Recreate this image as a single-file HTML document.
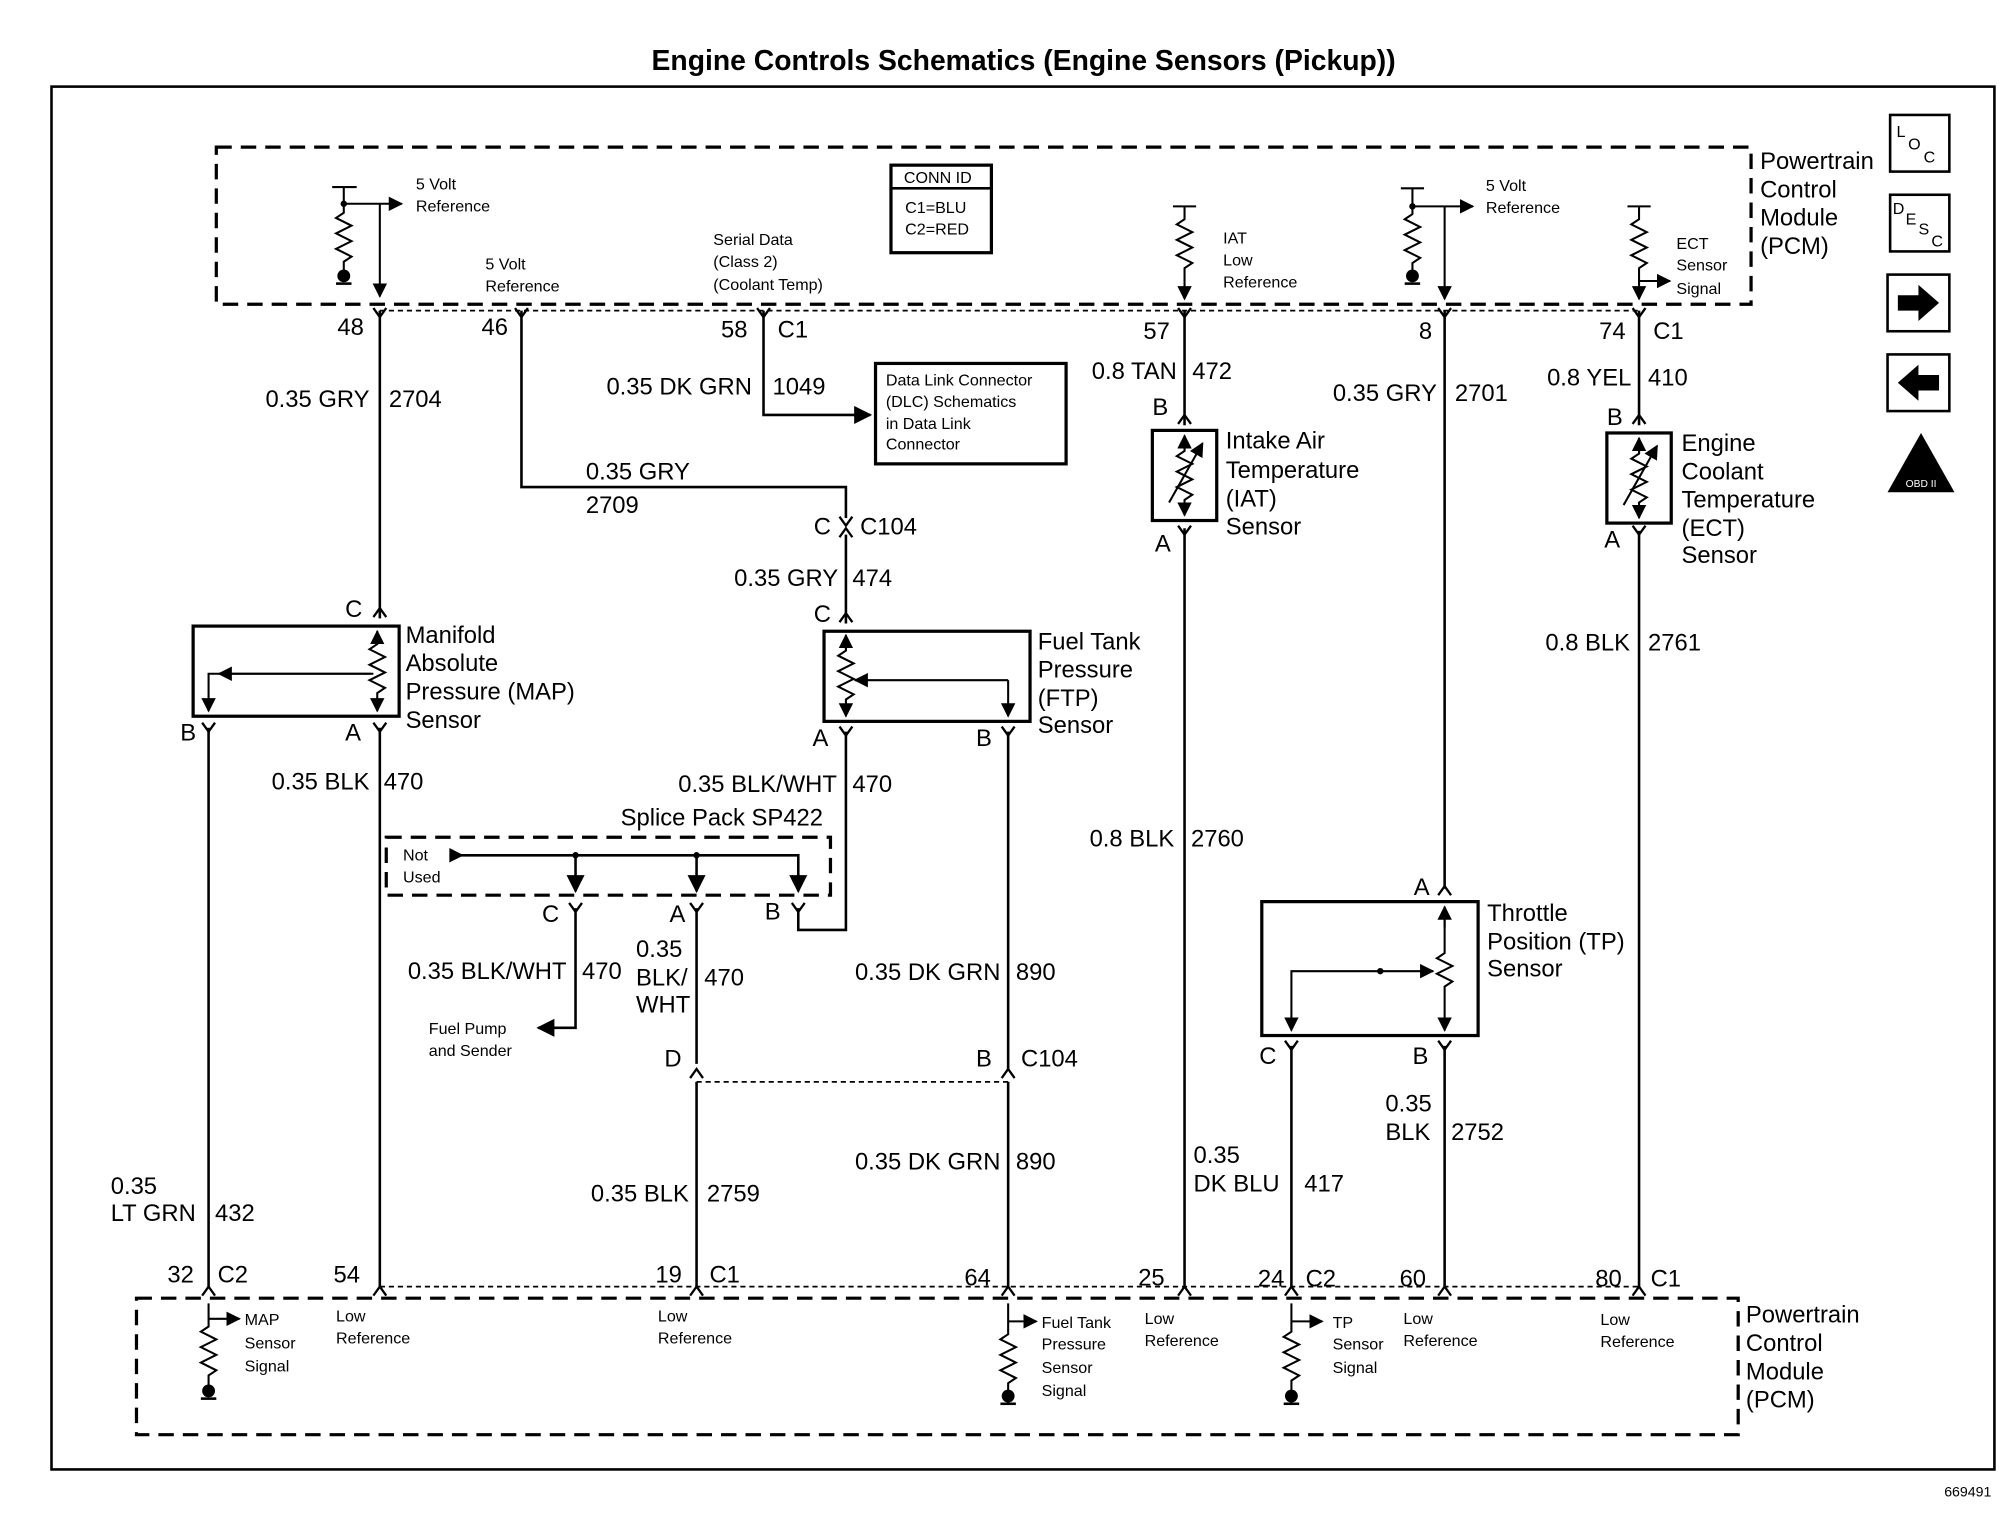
<!DOCTYPE html>
<html><head><meta charset="utf-8"><style>
html,body{margin:0;padding:0;background:#fff}
svg{display:block}
text{font-family:"Liberation Sans",sans-serif;fill:#000}
.t{font-size:18.5px}
.s{font-size:12.5px}
.e{text-anchor:end}
</style></head><body>
<svg width="2006" height="1520" viewBox="0 0 1558 1180" xmlns="http://www.w3.org/2000/svg">
<defs>
<marker id="ar" viewBox="0 0 10 10" refX="9" refY="5" markerWidth="7" markerHeight="7" orient="auto"><path d="M0,0 L10,5 L0,10 z" fill="#000"/></marker>
<symbol id="fk" overflow="visible"><path d="M-5,-7 L0,0 L5,-7" fill="none" stroke="#000" stroke-width="1.8"/></symbol>
<symbol id="fu" overflow="visible"><path d="M-5,7 L0,0 L5,7" fill="none" stroke="#000" stroke-width="1.8"/></symbol>
<symbol id="gnd" overflow="visible"><circle cx="0" cy="0" r="5" fill="#000"/><path d="M-6,6 H6" stroke="#000" stroke-width="2"/></symbol>
</defs>
<rect width="1558" height="1180" fill="#fff"/>
<text x="795" y="54" text-anchor="middle" style="font-size:22px;font-weight:bold">Engine Controls Schematics (Engine Sensors (Pickup))</text>
<rect x="40" y="67" width="1509" height="1074" fill="none" stroke="#000" stroke-width="2"/>
<text x="1510" y="1162" style="font-size:11px">669491</text>

<g fill="none" stroke="#000" stroke-width="2.5" stroke-dasharray="12,7">
<rect x="168" y="114" width="1192" height="122"/>
<rect x="106" y="1008" width="1244" height="106"/>
<rect x="300" y="650" width="345" height="45"/>
</g>
<g stroke="#000" stroke-width="1.3" stroke-dasharray="4,3" fill="none">
<path d="M295,241 H1273"/><path d="M295,999 H1273"/><path d="M541,840 H783"/>
</g>

<!-- wires -->
<g stroke="#000" stroke-width="2" fill="none">
<path d="M295,241 V480"/>
<path d="M405,241 V378 H657 V402"/><path d="M657,415 V484"/>
<path d="M593,241 V322 H676" marker-end="url(#ar)"/>
<path d="M920,241 V330"/><path d="M920,410 V999"/>
<path d="M1122,241 V690"/>
<path d="M1273,241 V330"/><path d="M1273,412 V999"/>
<path d="M162,565 V999"/><path d="M295,565 V999"/>
<path d="M783,568 V830"/><path d="M783,840 V999"/>
<path d="M657,568 V722 H620 V705"/>
<path d="M447,705 V798 H418" marker-end="url(#ar)"/>
<path d="M541,705 V826"/><path d="M541,840 V999"/>
<path d="M1003,812 V999"/><path d="M1122,812 V999"/>
<!-- splice internals -->
<path d="M355,664 H620 V692" marker-end="url(#ar)"/>
<path d="M358,664 L350,660 L350,668 z" fill="#000"/>
<path d="M447,664 V692" marker-end="url(#ar)"/><path d="M541,664 V692" marker-end="url(#ar)"/>
</g>
<circle cx="447" cy="664" r="2.5"/><circle cx="541" cy="664" r="2.5"/>

<!-- connector forks -->
<g>
<use href="#fk" x="295" y="246"/><use href="#fk" x="405" y="246"/><use href="#fk" x="593" y="246"/><use href="#fk" x="920" y="246"/><use href="#fk" x="1122" y="246"/><use href="#fk" x="1273" y="246"/>
<use href="#fu" x="295" y="472"/><use href="#fu" x="657" y="476"/><use href="#fu" x="920" y="322"/><use href="#fu" x="1273" y="322"/>
<use href="#fk" x="657" y="408"/><use href="#fu" x="657" y="410"/>
<use href="#fk" x="162" y="568"/><use href="#fk" x="295" y="568"/><use href="#fk" x="657" y="571"/><use href="#fk" x="783" y="571"/>
<use href="#fk" x="920" y="415"/><use href="#fk" x="1273" y="415"/>
<use href="#fk" x="447" y="708"/><use href="#fk" x="541" y="708"/><use href="#fk" x="620" y="708"/>
<use href="#fu" x="541" y="830"/><use href="#fu" x="783" y="830"/>
<use href="#fu" x="1122" y="688"/><use href="#fk" x="1003" y="815"/><use href="#fk" x="1122" y="815"/>
<use href="#fu" x="162" y="999"/><use href="#fu" x="295" y="999"/><use href="#fu" x="541" y="999"/><use href="#fu" x="783" y="999"/><use href="#fu" x="920" y="999"/><use href="#fu" x="1003" y="999"/><use href="#fu" x="1122" y="999"/><use href="#fu" x="1273" y="999"/>
</g>

<!-- top PCM internals -->
<g stroke="#000" stroke-width="1.6" fill="none">
<path d="M258,145 H277"/><path d="M267,145 V165 l-6,4 12,6 -12,6 12,6 -12,6 12,6 -6,4 V212"/>
<path d="M267,158 H312" marker-end="url(#ar)"/><path d="M295,158 V230" marker-end="url(#ar)"/>
<path d="M1088,146 H1106"/><path d="M1097,146 V166 l-6,4 12,6 -12,6 12,6 -12,6 12,6 -6,4 V212"/>
<path d="M1097,160 H1144" marker-end="url(#ar)"/><path d="M1122,160 V232" marker-end="url(#ar)"/>
<path d="M911,160 H929"/><path d="M920,160 V170 l-6,4 12,6 -12,6 12,6 -12,6 12,6 -6,4 V232" marker-end="url(#ar)"/>
<path d="M1264,160 H1282"/><path d="M1273,160 V170 l-6,4 12,6 -12,6 12,6 -12,6 12,6 -6,4 V232" marker-end="url(#ar)"/>
<path d="M1273,218 H1297" marker-end="url(#ar)"/>
</g>
<use href="#gnd" x="267" y="214"/><use href="#gnd" x="1097" y="214"/>
<circle cx="267" cy="158" r="2.5"/><circle cx="1097" cy="160" r="2.5"/>

<!-- bottom PCM internals -->
<g stroke="#000" stroke-width="1.6" fill="none">
<path d="M162,1012 V1030 l-6,4 12,6 -12,6 12,6 -12,6 12,6 -6,4 V1076"/><path d="M162,1024 H186" marker-end="url(#ar)"/>
<path d="M783,1012 V1036 l-6,4 12,6 -12,6 12,6 -12,6 12,6 -6,4 V1080"/><path d="M783,1026 H805" marker-end="url(#ar)"/>
<path d="M1003,1012 V1034 l-6,4 12,6 -12,6 12,6 -12,6 12,6 -6,4 V1080"/><path d="M1003,1026 H1027" marker-end="url(#ar)"/>
</g>
<use href="#gnd" x="162" y="1080"/><use href="#gnd" x="783" y="1084"/><use href="#gnd" x="1003" y="1084"/>

<!-- sensors -->
<g stroke="#000" stroke-width="2.5" fill="none">
<rect x="150" y="486" width="160" height="70"/>
<rect x="640" y="490" width="160" height="70"/>
<rect x="895" y="334" width="50" height="70"/>
<rect x="1248" y="336" width="50" height="70"/>
<rect x="980" y="700" width="168" height="104"/>
<rect x="692" y="128" width="78" height="68"/>
<rect x="680" y="282" width="148" height="78"/>
</g>
<path d="M692,146 H770" stroke="#000" stroke-width="2"/>
<g stroke="#000" stroke-width="1.6" fill="none">
<path d="M293,490 V500 l-6,4 12,6 -12,6 12,6 -12,6 12,6 -6,4 V552" marker-end="url(#ar)"/><path d="M293,500 V490" marker-end="url(#ar)"/>
<path d="M288,523 H162 V552" marker-end="url(#ar)"/><path d="M290,523 H170" marker-end="url(#ar)"/>
<path d="M657,494 V505 l-6,4 12,6 -12,6 12,6 -12,6 12,6 -6,4 V556" marker-end="url(#ar)"/><path d="M657,504 V493" marker-end="url(#ar)"/>
<path d="M783,528 V556" marker-end="url(#ar)"/><path d="M783,528 H664" marker-end="url(#ar)"/>
<path d="M920,338 V350 l-6,4 12,6 -12,6 12,6 -12,6 12,6 -6,4 V400" marker-end="url(#ar)"/><path d="M920,350 V338" marker-end="url(#ar)"/><path d="M908,390 L934,344" marker-end="url(#ar)"/>
<path d="M1273,340 V352 l-6,4 12,6 -12,6 12,6 -12,6 12,6 -6,4 V402" marker-end="url(#ar)"/><path d="M1273,352 V340" marker-end="url(#ar)"/><path d="M1261,392 L1287,346" marker-end="url(#ar)"/>
<path d="M1122,704 V740 l-6,4 12,6 -12,6 12,6 -6,4 V800" marker-end="url(#ar)"/><path d="M1122,720 V704" marker-end="url(#ar)"/>
<path d="M1072,754 H1113" marker-end="url(#ar)"/><path d="M1072,754 H1003 V800" marker-end="url(#ar)"/>
</g>
<circle cx="1072" cy="754" r="2.5"/>

<!-- right icons -->
<g stroke="#000" stroke-width="2" fill="none">
<rect x="1468" y="89" width="46" height="44"/><rect x="1468" y="151" width="46" height="44"/>
<rect x="1466" y="213" width="48" height="44"/><rect x="1466" y="275" width="48" height="44"/>
</g>
<text x="1473" y="106" class="s">L</text><text x="1482" y="116" class="s">O</text><text x="1494" y="126" class="s">C</text>
<text x="1470" y="166" class="s">D</text><text x="1480" y="174" class="s">E</text><text x="1490" y="182" class="s">S</text><text x="1500" y="191" class="s">C</text>
<path d="M1474,229 H1490 V221 L1506,235 L1490,249 V241 H1474 z" fill="#000"/>
<path d="M1506,291 H1490 V283 L1474,297 L1490,311 V303 H1506 z" fill="#000"/>
<path d="M1492,336 L1518,382 H1466 z" fill="#000"/>
<text x="1492" y="378" text-anchor="middle" style="font-size:8px;fill:#fff">OBD II</text>

<!-- labels -->
<g class="t">
<text x="262" y="260">48</text><text x="374" y="260">46</text><text x="560" y="262">58</text><text x="604" y="262">C1</text>
<text x="888" y="263">57</text><text x="1102" y="263">8</text><text x="1242" y="263">74</text><text x="1284" y="263">C1</text>
<text x="287" y="316" class="e">0.35 GRY</text><text x="302" y="316">2704</text>
<text x="584" y="306" class="e">0.35 DK GRN</text><text x="600" y="306">1049</text>
<text x="455" y="372">0.35 GRY</text><text x="455" y="398">2709</text>
<text x="632" y="415">C</text><text x="668" y="415">C104</text>
<text x="651" y="455" class="e">0.35 GRY</text><text x="662" y="455">474</text>
<text x="632" y="483">C</text><text x="268" y="479">C</text>
<text x="914" y="294" class="e">0.8 TAN</text><text x="926" y="294">472</text>
<text x="895" y="322">B</text><text x="897" y="428">A</text>
<text x="1116" y="311" class="e">0.35 GRY</text><text x="1130" y="311">2701</text>
<text x="1267" y="299" class="e">0.8 YEL</text><text x="1280" y="299">410</text>
<text x="1248" y="330">B</text><text x="1246" y="425">A</text>
<text x="952" y="348">Intake Air</text><text x="952" y="371">Temperature</text><text x="952" y="393">(IAT)</text><text x="952" y="415">Sensor</text>
<text x="1306" y="350">Engine</text><text x="1306" y="372">Coolant</text><text x="1306" y="394">Temperature</text><text x="1306" y="416">(ECT)</text><text x="1306" y="437">Sensor</text>
<text x="315" y="499">Manifold</text><text x="315" y="521">Absolute</text><text x="315" y="543">Pressure (MAP)</text><text x="315" y="565">Sensor</text>
<text x="140" y="575">B</text><text x="268" y="575">A</text>
<text x="806" y="504">Fuel Tank</text><text x="806" y="526">Pressure</text><text x="806" y="548">(FTP)</text><text x="806" y="569">Sensor</text>
<text x="631" y="579">A</text><text x="758" y="579">B</text>
<text x="287" y="613" class="e">0.35 BLK</text><text x="298" y="613">470</text>
<text x="650" y="615" class="e">0.35 BLK/WHT</text><text x="662" y="615">470</text>
<text x="482" y="641">Splice Pack SP422</text>
<text x="421" y="716">C</text><text x="520" y="716">A</text><text x="594" y="714">B</text>
<text x="440" y="760" class="e">0.35 BLK/WHT</text><text x="452" y="760">470</text>
<text x="494" y="743">0.35</text><text x="494" y="765">BLK/</text><text x="494" y="786">WHT</text><text x="547" y="765">470</text>
<text x="777" y="761" class="e">0.35 DK GRN</text><text x="789" y="761">890</text>
<text x="516" y="828">D</text><text x="758" y="828">B</text><text x="793" y="828">C104</text>
<text x="912" y="657" class="e">0.8 BLK</text><text x="925" y="657">2760</text>
<text x="1266" y="505" class="e">0.8 BLK</text><text x="1280" y="505">2761</text>
<text x="1098" y="695">A</text><text x="1155" y="715">Throttle</text><text x="1155" y="737">Position (TP)</text><text x="1155" y="758">Sensor</text>
<text x="978" y="826">C</text><text x="1097" y="826">B</text>
<text x="1076" y="863">0.35</text><text x="1076" y="885">BLK</text><text x="1127" y="885">2752</text>
<text x="927" y="903">0.35</text><text x="927" y="925">DK BLU</text><text x="1013" y="925">417</text>
<text x="777" y="908" class="e">0.35 DK GRN</text><text x="789" y="908">890</text>
<text x="535" y="933" class="e">0.35 BLK</text><text x="549" y="933">2759</text>
<text x="86" y="927">0.35</text><text x="86" y="948">LT GRN</text><text x="167" y="948">432</text>
<text x="130" y="996">32</text><text x="169" y="996">C2</text><text x="259" y="996">54</text><text x="509" y="996">19</text><text x="551" y="996">C1</text>
<text x="749" y="998">64</text><text x="884" y="998">25</text><text x="977" y="999">24</text><text x="1014" y="999">C2</text><text x="1087" y="999">60</text><text x="1239" y="999">80</text><text x="1282" y="999">C1</text>
<text x="1367" y="131">Powertrain</text><text x="1367" y="153">Control</text><text x="1367" y="175">Module</text><text x="1367" y="197">(PCM)</text>
<text x="1356" y="1027">Powertrain</text><text x="1356" y="1049">Control</text><text x="1356" y="1071">Module</text><text x="1356" y="1093">(PCM)</text>
</g>
<g class="s">
<text x="313" y="668">Not</text><text x="313" y="685">Used</text>
<text x="333" y="803">Fuel Pump</text><text x="333" y="820">and Sender</text>
<text x="190" y="1029">MAP</text><text x="190" y="1047">Sensor</text><text x="190" y="1065">Signal</text>
<text x="261" y="1026">Low</text><text x="261" y="1043">Reference</text>
<text x="511" y="1026">Low</text><text x="511" y="1043">Reference</text>
<text x="809" y="1031">Fuel Tank</text><text x="809" y="1048">Pressure</text><text x="809" y="1066">Sensor</text><text x="809" y="1084">Signal</text>
<text x="889" y="1028">Low</text><text x="889" y="1045">Reference</text>
<text x="1035" y="1031">TP</text><text x="1035" y="1048">Sensor</text><text x="1035" y="1066">Signal</text>
<text x="1090" y="1028">Low</text><text x="1090" y="1045">Reference</text>
<text x="1243" y="1029">Low</text><text x="1243" y="1046">Reference</text>
<text x="323" y="147">5 Volt</text><text x="323" y="164">Reference</text>
<text x="377" y="209">5 Volt</text><text x="377" y="226">Reference</text>
<text x="554" y="190">Serial Data</text><text x="554" y="207">(Class 2)</text><text x="554" y="225">(Coolant Temp)</text>
<text x="950" y="189">IAT</text><text x="950" y="206">Low</text><text x="950" y="223">Reference</text>
<text x="1154" y="148">5 Volt</text><text x="1154" y="165">Reference</text>
<text x="1302" y="193">ECT</text><text x="1302" y="210">Sensor</text><text x="1302" y="228">Signal</text>
<text x="702" y="142">CONN ID</text><text x="703" y="165">C1=BLU</text><text x="703" y="182">C2=RED</text>
<text x="688" y="299">Data Link Connector</text><text x="688" y="316">(DLC) Schematics</text><text x="688" y="333">in Data Link</text><text x="688" y="349">Connector</text>
</g>
</svg>
</body></html>
